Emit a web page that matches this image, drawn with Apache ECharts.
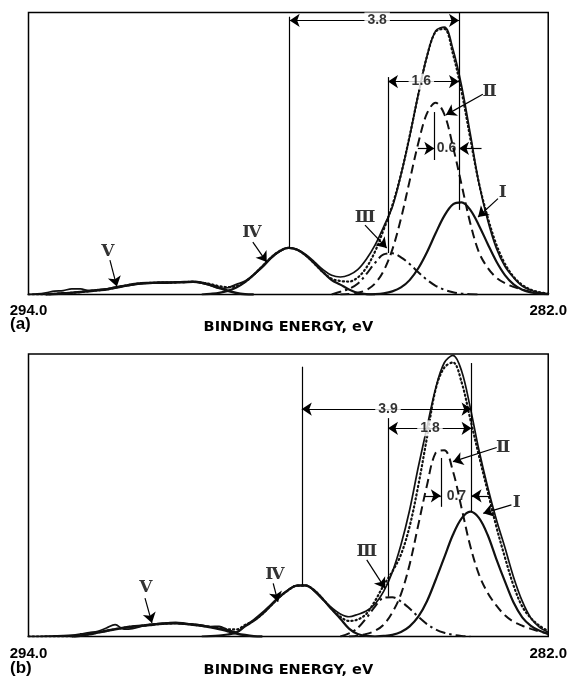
<!DOCTYPE html>
<html><head><meta charset="utf-8">
<script src="https://cdn.jsdelivr.net/npm/echarts@6/dist/echarts.min.js"></script>
<style>html,body{margin:0;padding:0;background:#fff}#chart{width:570px;height:680px}</style>
</head><body><div id="chart"></div>
<script>
// Binding energy grid (eV), shared by every curve, 0.2 eV steps
const energy = [294.0,293.8,293.6,293.4,293.2,293.0,292.8,292.6,292.4,292.2,292.0,291.8,291.6,291.4,291.2,291.0,290.8,290.6,290.4,290.2,290.0,289.8,289.6,289.4,289.2,289.0,288.8,288.6,288.4,288.2,288.0,287.8,287.6,287.4,287.2,287.0,286.8,286.6,286.4,286.2,286.0,285.8,285.6,285.4,285.2,285.0,284.8,284.6,284.4,284.2,284.0,283.8,283.6,283.4,283.2,283.0,282.8,282.6,282.4,282.2,282.0];
const xTickLabels = ['294.0', '282.0'];
const axisTitle = 'BINDING ENERGY, eV';
const panelNames = ['(a)', '(b)'];
const peakNames = ['Ⅰ', 'Ⅱ', 'Ⅲ', 'Ⅳ', 'Ⅴ'];
const spacingA = ['3.8', '1.6', '0.6'];
const spacingB = ['3.9', '1.8', '0.7'];

// ---- panel (a): measured spectrum and fitted envelope (full grid)
const measuredA = [
0,0.2,0.6,1.2,1.4,2.0,2.0,1.4,1.7,2.0,
2.6,3.0,3.4,3.8,4.0,4.2,4.3,4.4,4.4,4.6,
4.0,3.2,2.2,2.4,3.6,4.8,7.0,9.6,12.8,15.2,
16.6,16.0,14.2,11.6,8.8,6.8,6.2,6.9,8.8,12.5,
17.5,24.0,31.0,42.5,56.0,71.0,84.5,93.5,94.8,87.0,
74.0,57.0,39.5,26.5,16.5,10.0,6.0,3.0,1.5,0.6,
0.2];
const fitA = [
0,0,0,0.2,0.4,0.6,0.9,1.2,1.5,1.8,
2.4,3.0,3.6,4.0,4.1,4.2,4.2,4.3,4.4,4.5,
4.2,3.7,3.0,2.6,3.0,4.5,7.0,10.0,13.1,15.4,
16.5,15.9,13.9,11.0,7.9,5.6,4.8,4.6,6.0,9.5,
15.2,23.0,31.6,42.6,56.2,70.9,84.4,93.2,94.2,85.3,
71.9,55.4,39.5,27.5,17.8,10.9,6.3,3.4,1.7,0.8,
0.3];
// components of (a): each starts at the given energy and follows the grid
const peakIA_start = 286.2;
const peakIA = [0,0.1,0.4,1.1,2.5,5.1,9.3,15.0,21.7,27.9,32.0,32.7,30.0,24.5,18.0,11.8,6.9,3.6,1.7,0.7,0.3,0.1];
const peakIIA_start = 286.8;
const peakIIA = [0,0.2,0.6,1.6,3.9,8.4,15.9,26.9,40.3,53.7,64.2,68.0,64.0,52.5,38.9,25.3,15.0,9.5,6.0,4.0,2.7,1.7,1.0,0.5,0.2];
const peakIIIA_start = 287.0;
const peakIIIA = [0,1.0,2.0,3.8,7.2,11.2,14.2,14.6,13.2,10.8,7.9,5.2,3.1,1.7,0.8,0.3,0.1,0];
const peakIVA_start = 290.0;
const peakIVA = [0,0.25,0.6,1.3,2.5,4.4,7.0,10.0,13.1,15.4,16.5,15.9,13.9,11.0,7.9,5.1,3.5,1.8,0.6,0.1,0];
const peakVA_start = 293.6;
const peakVA = [0,0.2,0.4,0.6,0.9,1.2,1.5,1.8,2.4,3.0,3.6,4.0,4.1,4.2,4.2,4.3,4.4,4.5,4.2,3.4,2.4,1.3,0.5,0.1,0];

// ---- panel (b)
const measuredB = [
0,0,0.1,0.2,0.3,0.5,0.9,1.4,1.8,3.0,
4.2,2.6,2.8,3.6,4.2,4.6,4.8,5.0,4.7,4.3,
4.0,3.5,3.6,2.4,1.6,3.8,6.0,8.5,11.4,14.3,
16.6,18.1,18.2,16.0,13.0,10.2,8.0,7.0,7.8,9.0,
11.5,16.0,22.8,32.5,44.8,60.0,74.0,87.8,96.9,99.5,
94.0,81.0,66.0,53.0,41.5,31.5,21.0,12.5,6.5,3.2,
1.5];
const fitB = [
0,0,0,0,0,0,0.3,0.8,1.4,2.0,
2.6,3.1,3.5,3.8,4.1,4.4,4.6,4.7,4.5,4.2,
3.8,3.4,3.0,2.6,2.5,4.1,5.6,8.0,11.0,14.0,
16.4,18.0,18.0,16.3,13.2,9.8,7.0,5.5,6.0,8.0,
12.6,18.1,23.0,29.0,39.0,53.5,70.4,87.5,95.2,97.0,
90.0,77.0,64.0,51.5,39.0,28.0,18.0,10.6,6.5,3.8,
1.9];
const peakIB_start = 286.0;
const peakIB = [0,0.2,0.6,1.6,3.6,7.0,12.5,20.0,28.0,36.0,41.8,44.2,42.0,36.0,27.5,19.5,12.0,6.8,3.8,2.0,0.9];
const peakIIB_start = 286.6;
const peakIIB = [0,0.3,0.9,2.0,4.2,8.5,15.0,25.5,39.5,53.5,65.0,65.9,58.5,45.4,32.0,22.0,15.5,11.0,7.5,5.2,3.8,2.7,1.8,1.0];
const peakIIIB_start = 286.8;
const peakIIIB = [0,1.1,3.0,6.5,10.6,13.7,13.9,12.4,9.9,7.0,4.4,2.5,1.3,0.6,0.2,0];
const peakIVB_start = 290.0;
const peakIVB = [0,0.1,0.3,0.7,1.4,3.6,5.5,8.0,11.0,14.0,16.4,18.0,18.0,16.3,13.2,9.6,6.3,2.8,0.9,0.2,0];
const peakVB_start = 293.0;
const peakVB = [0,0.3,0.8,1.4,2.0,2.6,3.1,3.5,3.8,4.1,4.4,4.6,4.7,4.5,4.2,3.8,3.3,2.7,1.9,1.1,0.5,0.1,0];

// ---- annotation placement (data coordinates: eV, intensity 0-100)
const annA = {
  vlines: [[287.97, 98.5, 16.5], [284.06, 100, 30], [285.70, 77.1, 14.7], [284.63, 64.7, 47.7]],
  dims: [{from: 287.97, to: 284.06, y: 97.2, tx: 285.95}, {from: 285.70, to: 284.06, y: 75.5, tx: 284.93}],
  inner: {y: 51.8, lFrom: 285.01, lTo: 284.63, rFrom: 283.54, rTo: 284.06, tx: 284.35},
  pointers: [
    {label: [283.05, 36.2], from: [283.16, 34.0], to: [283.62, 27.5]},
    {label: [283.35, 71.9], from: [283.51, 71.0], to: [284.36, 63.7]},
    {label: [286.23, 27.3], from: [286.23, 24.6], to: [285.73, 16.5]},
    {label: [288.84, 22.0], from: [288.82, 18.6], to: [288.50, 11.5]},
    {label: [292.17, 15.3], from: [292.12, 12.2], to: [291.96, 2.8]}
  ]
};
const annB = {
  vlines: [[287.69, 95.5, 18.2], [283.77, 96.8, 44.2], [285.70, 77.3, 14.1], [284.48, 63.2, 45.9]],
  dims: [{from: 287.69, to: 283.77, y: 80.5, tx: 285.70}, {from: 285.70, to: 283.77, y: 73.7, tx: 284.73}],
  inner: {y: 49.8, lFrom: 284.85, lTo: 284.48, rFrom: 283.35, rTo: 283.77, tx: 284.12},
  pointers: [
    {label: [282.73, 47.4], from: [282.85, 46.6], to: [283.50, 43.6]},
    {label: [283.04, 66.8], from: [283.19, 66.9], to: [284.20, 61.9]},
    {label: [286.19, 30.2], from: [286.19, 27.1], to: [285.77, 17.1]},
    {label: [288.31, 22.0], from: [288.35, 18.8], to: [288.24, 12.3]},
    {label: [291.29, 17.4], from: [291.31, 13.6], to: [291.15, 4.8]}
  ]
};

function full(vals) { return energy.map((e, i) => [e, vals[i]]); }
function part(start, vals) {
  const i0 = energy.indexOf(start);
  return vals.map((v, k) => [energy[i0 + k], v]);
}

const INK = '#111';
const numFont = {fontFamily: 'Liberation Sans, Arial, sans-serif', fontWeight: 'bold', fontSize: 14, color: '#000'};
const romanFont = {fontFamily: 'DejaVu Serif, Liberation Serif, serif', fontWeight: 'bold', fontSize: 17, color: '#000'};
const titleFont = {color: '#000', fontSize: 14.5, fontWeight: 'bold', fontFamily: 'DejaVu Sans, Liberation Sans, sans-serif'};

function panelSeries(g, d, ann, texts) {
  const base = {type: 'line', xAxisIndex: g, yAxisIndex: g, symbol: 'none', smooth: 0.35, silent: true, animation: false};
  const s = [
    Object.assign({}, base, {name: 'V', data: d.V, lineStyle: {color: INK, width: 2.6}, z: 2}),
    Object.assign({}, base, {name: 'IV', data: d.IV, lineStyle: {color: INK, width: 2.2}, z: 2}),
    Object.assign({}, base, {name: 'III', data: d.III, lineStyle: {color: INK, width: 2, type: [10, 4, 2.5, 4]}, z: 2}),
    Object.assign({}, base, {name: 'II', data: d.II, lineStyle: {color: INK, width: 2, type: [9, 5]}, z: 2}),
    Object.assign({}, base, {name: 'I', data: d.I, lineStyle: {color: INK, width: 2.2}, z: 2}),
    Object.assign({}, base, {name: 'fit', data: d.fit, lineStyle: {color: INK, width: 2.2, type: [1.2, 3], cap: 'round'}, z: 3}),
    Object.assign({}, base, {name: 'measured', data: d.meas, lineStyle: {color: INK, width: 1.7}, z: 4})
  ];
  const seg = (x1, y1, x2, y2, s1, s2) => [{coord: [x1, y1], symbol: s1}, {coord: [x2, y2], symbol: s2}];
  const ml = [];
  ann.vlines.forEach(v => ml.push(seg(v[0], v[1], v[0], v[2], 'none', 'none')));
  ann.dims.forEach(m => ml.push(seg(m.from, m.y, m.to, m.y, 'arrow', 'arrow')));
  ml.push(seg(ann.inner.lFrom, ann.inner.y, ann.inner.lTo, ann.inner.y, 'none', 'arrow'));
  ml.push(seg(ann.inner.rFrom, ann.inner.y, ann.inner.rTo, ann.inner.y, 'none', 'arrow'));
  ann.pointers.forEach(p => ml.push(seg(p.from[0], p.from[1], p.to[0], p.to[1], 'none', 'arrow')));

  const labels = [];
  ann.dims.forEach((m, k) => labels.push({value: [m.tx, m.y], label: Object.assign({show: true, position: 'inside', formatter: texts[k], backgroundColor: '#fff', padding: [1, 3]}, numFont)}));
  labels.push({value: [ann.inner.tx, ann.inner.y], label: Object.assign({show: true, position: 'inside', formatter: texts[2], padding: [0, 0]}, numFont)});
  ann.pointers.forEach((p, k) => labels.push({value: p.label, label: Object.assign({show: true, position: 'inside', formatter: peakNames[k]}, romanFont)}));

  s.push({
    type: 'scatter', xAxisIndex: g, yAxisIndex: g, symbolSize: 1, silent: true, animation: false, z: 10,
    itemStyle: {color: 'rgba(0,0,0,0)'},
    data: labels,
    markLine: {
      silent: true, animation: false, symbolSize: 10,
      lineStyle: {color: '#000', width: 1.2, type: 'solid'},
      label: {show: false}, emphasis: {disabled: true},
      data: ml
    }
  });
  return s;
}

const dataA = {meas: full(measuredA), fit: full(fitA), I: part(peakIA_start, peakIA), II: part(peakIIA_start, peakIIA),
  III: part(peakIIIA_start, peakIIIA), IV: part(peakIVA_start, peakIVA), V: part(peakVA_start, peakVA)};
const dataB = {meas: full(measuredB), fit: full(fitB), I: part(peakIB_start, peakIB), II: part(peakIIB_start, peakIIB),
  III: part(peakIIIB_start, peakIIIB), IV: part(peakIVB_start, peakIVB), V: part(peakVB_start, peakVB)};

const grids = [
  {left: 28.5, top: 12.5, width: 520, height: 282},
  {left: 28.5, top: 354, width: 520, height: 282.5}
];

const option = {
  animation: false,
  backgroundColor: '#fff',
  grid: grids.map(g => Object.assign({show: true, borderColor: '#000', borderWidth: 1.5, backgroundColor: 'transparent'}, g)),
  xAxis: [0, 1].map(g => ({
    gridIndex: g, type: 'value', min: 282, max: 294, interval: 6, inverse: true,
    axisLine: {show: false}, axisTick: {show: false}, splitLine: {show: false},
    axisLabel: {color: '#000', fontSize: 15, fontWeight: 'bold', fontFamily: 'Liberation Sans, Arial, sans-serif',
      margin: g ? 10 : 9, showMinLabel: true, showMaxLabel: true,
      formatter: v => (v === 294 ? xTickLabels[0] : (v === 282 ? xTickLabels[1] : ''))},
    name: axisTitle, nameLocation: 'middle', nameGap: g ? 24 : 23,
    nameTextStyle: titleFont
  })),
  yAxis: [0, 1].map(g => ({gridIndex: g, type: 'value', min: 0, max: 100, show: false})),
  graphic: [
    {type: 'text', left: 10, top: 316, style: {text: panelNames[0], fontSize: 17, fontWeight: 'bold', fontFamily: 'Liberation Sans, Arial, sans-serif', fill: '#000'}},
    {type: 'text', left: 10, top: 660, style: {text: panelNames[1], fontSize: 17, fontWeight: 'bold', fontFamily: 'Liberation Sans, Arial, sans-serif', fill: '#000'}}
  ],
  series: panelSeries(0, dataA, annA, spacingA).concat(panelSeries(1, dataB, annB, spacingB))
};

const chart = echarts.init(document.getElementById('chart'), null, {renderer: 'canvas'});
chart.setOption(option);
</script>
</body></html>
